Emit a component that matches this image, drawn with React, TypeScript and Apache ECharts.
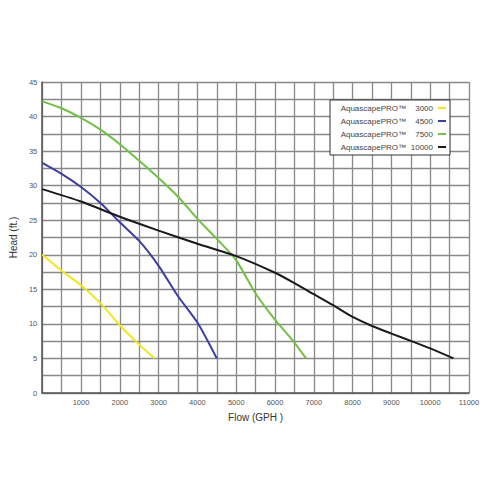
import React, { useEffect, useRef } from "react";
import * as echarts from "echarts";

const flow3000 = [0, 500, 1000, 1500, 2000, 2500, 2900];
const head3000 = [20.0, 17.7, 15.6, 13.0, 9.8, 7.0, 5.0];

const flow4500 = [0, 500, 1000, 1500, 2000, 2500, 3000, 3500, 4000, 4500];
const head4500 = [33.3, 31.7, 29.8, 27.5, 24.7, 22.0, 18.4, 14.0, 10.2, 5.0];

const flow7500 = [0, 500, 1000, 1500, 2000, 2500, 3000, 3500, 4000, 4500, 5000, 5500, 6000, 6500, 6800];
const head7500 = [42.2, 41.2, 39.8, 38.1, 36.0, 33.6, 31.1, 28.4, 25.2, 22.3, 19.2, 14.4, 10.6, 7.3, 5.0];

const flow10000 = [0, 1000, 2000, 3000, 4000, 5000, 6000, 6500, 7000, 7500, 8000, 8500, 9000, 9500, 10000, 10600];
const head10000 = [29.5, 27.7, 25.5, 23.5, 21.6, 19.8, 17.4, 15.9, 14.3, 12.7, 11.0, 9.7, 8.6, 7.55, 6.45, 5.0];

const seriesNames = ["3000", "4500", "7500", "10000"];
const seriesColors = ["#f0e81c", "#3c3f9e", "#72c045", "#1a1a1a"];
const seriesFlows = [flow3000, flow4500, flow7500, flow10000];
const seriesHeads = [head3000, head4500, head7500, head10000];

const xMax = 11000;
const yMax = 45;

export default function App() {
  const ref = useRef<HTMLDivElement>(null);
  useEffect(() => {
    if (!ref.current) return;
    const chart = echarts.init(ref.current, null, { renderer: "svg" });
    const font = "Liberation Sans, Arial, sans-serif";
    chart.setOption({
      animation: false,
      backgroundColor: "#ffffff",
      textStyle: { fontFamily: font },
      grid: { left: 40, right: 31, top: 82, bottom: 107, containLabel: false },
      legend: {
        right: 50,
        top: 100,
        orient: "vertical",
        align: "right",
        backgroundColor: "#ffffff",
        borderColor: "#333333",
        borderWidth: 1,
        borderRadius: 0,
        padding: [4, 4, 4, 4],
        itemWidth: 8,
        itemHeight: 2,
        itemGap: 5,
        icon: "rect",
        data: seriesNames,
        formatter: (name: string) => `{a|AquascapePRO™}{b|${name}}`,
        textStyle: {
          fontFamily: font,
          color: "#444444",
          rich: {
            a: { fontSize: 8, color: "#444444", width: 72, lineHeight: 10, fontFamily: font },
            b: { fontSize: 8, color: "#444444", width: 24, lineHeight: 10, padding: [0, 0, 0, 3], fontFamily: font },
          },
        },
      },
      xAxis: {
        type: "value",
        min: 0,
        max: xMax,
        interval: 500,
        name: "Flow (GPH )",
        nameLocation: "middle",
        nameGap: 19,
        nameTextStyle: { fontSize: 10, color: "#333333", fontFamily: font },
        axisLine: { show: true, lineStyle: { color: "#555555", width: 1.5 } },
        axisTick: { show: false },
        axisLabel: {
          fontSize: 7.5,
          color: "#555555",
          margin: 5,
          formatter: (v: number) => (v > 0 && v % 1000 === 0 ? String(v) : ""),
        },
        splitLine: { show: true, lineStyle: { color: "#888888", width: 1.3 } },
      },
      yAxis: {
        type: "value",
        min: 0,
        max: yMax,
        interval: 2.5,
        name: "Head (ft.)",
        nameLocation: "middle",
        nameGap: 21,
        nameRotate: 90,
        nameTextStyle: { fontSize: 10, color: "#333333", fontFamily: font },
        axisLine: { show: true, lineStyle: { color: "#555555", width: 1.5 } },
        axisTick: { show: false },
        axisLabel: {
          fontSize: 7.5,
          color: "#555555",
          margin: 5,
          formatter: (v: number) => (v % 5 === 0 ? String(v) : ""),
        },
        splitLine: { show: true, lineStyle: { color: "#888888", width: 1.3 } },
      },
      series: seriesNames.map((name, i) => ({
        name,
        type: "line",
        smooth: 0.25,
        showSymbol: false,
        symbol: "none",
        color: seriesColors[i],
        lineStyle: { color: seriesColors[i], width: 2 },
        data: seriesFlows[i].map((f, j) => [f, seriesHeads[i][j]]),
        z: 3,
      })),
    });
    return () => chart.dispose();
  }, []);
  return (
    <div
      ref={ref}
      style={{ position: "fixed", left: 0, top: 0, width: 500, height: 500, background: "#fff" }}
    />
  );
}
